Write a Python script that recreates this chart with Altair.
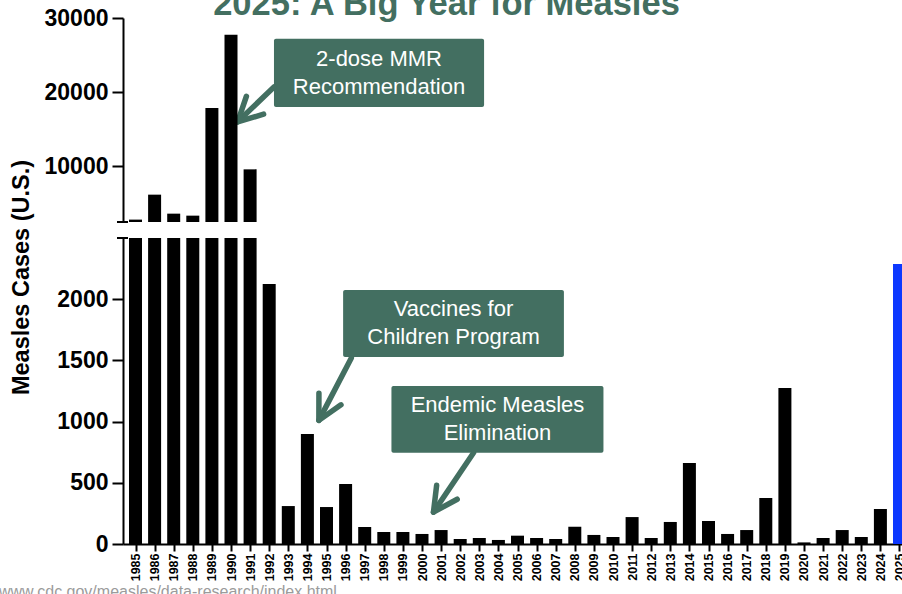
import math

import altair as alt
import pandas as pd

# ---------------------------------------------------------------- data
years = list(range(1985, 2026))
cases = [
    2822, 6186, 3625, 3356, 17871, 27750, 9596,          # 1985-1991
    2124, 310, 899, 302, 490,                            # 1992-1996
    139, 98, 98, 82, 114, 41, 49, 33, 68, 49, 41,        # 1997-2007
    141, 74, 57, 220, 49, 180, 662, 188, 82, 114,        # 2008-2017
    376, 1274, 13, 49, 114, 57, 286, 2288,               # 2018-2025
]
highlight_year = 2025

title_text = "2025: A Big Year for Measles"
y_title = "Measles Cases (U.S.)"
source_note = "www.cdc.gov/measles/data-research/index.html"

top_ticks = [10000, 20000, 30000]
bottom_ticks = [0, 500, 1000, 1500, 2000]

# callouts: box corners and arrow ends, in (year, cases) units
note_labels = ["2-dose MMR\nRecommendation", "Vaccines for\nChildren Program", "Endemic Measles\nElimination"]
note_panel = ["top", "bottom", "bottom"]
note_x0 = [1992.25, 1995.87, 1998.40]
note_x1 = [2003.25, 2007.43, 2009.50]
note_y0 = [18000, 1528, 745]
note_y1 = [27200, 2075, 1290]
arrow_x0 = [1992.25, 1996.30, 2002.70]
arrow_y0 = [20700, 1520, 745]
arrow_x1 = [1990.35, 1994.60, 2000.60]
arrow_y1 = [16000, 1010, 260]

# ---------------------------------------------------------------- layout
FONT = "Liberation Sans"
GREEN = "#436f61"
BLUE = "#0d38ff"

W, H = 779, 526
TOP_H = 204          # height of the upper (broken) panel
BOTTOM_TOP = 220     # where the lower panel starts
BREAK, TOP_MAX = 2500, 30000
X_DOMAIN = [1984.3455, 2025.1309]

px_per_year = W / (X_DOMAIN[1] - X_DOMAIN[0])
px_per_case = {"top": TOP_H / (TOP_MAX - BREAK), "bottom": (H - BOTTOM_TOP) / BREAK}

x_scale = alt.Scale(domain=X_DOMAIN, nice=False, zero=False, padding=0)
y_scales = {
    "top": alt.Scale(domain=[BREAK, TOP_MAX], range=[TOP_H, 0], nice=False, zero=False),
    "bottom": alt.Scale(domain=[0, BREAK], range=[H, BOTTOM_TOP], nice=False, zero=False),
}

y_axis_style = dict(
    orient="left", domainColor="black", domainWidth=2, tickColor="black",
    tickWidth=2, tickSize=11, labelFont=FONT, labelFontSize=23,
    labelFontWeight="bold", labelColor="black", labelPadding=4,
    labelFlush=False, labelOverlap=False, grid=False, title=None, format="d",
)
top_axis = alt.Axis(values=top_ticks, **y_axis_style)
bot_axis = alt.Axis(values=bottom_ticks, **y_axis_style)
# every layer shares this one x axis definition so the layers merge into a single axis
x_axis = alt.Axis(
    values=years, format="d", labelAngle=270, title=None, grid=False,
    labelFont=FONT, labelFontSize=12.5, labelFontWeight="bold",
    labelColor="black", labelPadding=2, labelFlush=False, labelOverlap=False,
    tickSize=7, tickWidth=2, tickColor="black", domainColor="black", domainWidth=2,
)

bars = pd.DataFrame({"year": years, "cases": cases})
bar_color = alt.condition(f"datum.year == {highlight_year}", alt.value(BLUE), alt.value("black"))

# ---------------------------------------------------------------- bars
top_bars = (
    alt.Chart(bars)
    .transform_filter(f"datum.cases > {BREAK}")
    .transform_calculate(top=f"min(datum.cases, {TOP_MAX})", base=f"{BREAK}")
    .mark_bar(size=13, clip=True)
    .encode(
        x=alt.X("year:Q", scale=x_scale, axis=x_axis),
        y=alt.Y("top:Q", scale=y_scales["top"], axis=top_axis),
        y2="base:Q",
        color=bar_color,
    )
)

bottom_bars = (
    alt.Chart(bars)
    .transform_calculate(low=f"min(datum.cases, {BREAK})", base="0")
    .mark_bar(size=13, clip=True)
    .encode(
        x=alt.X("year:Q", scale=x_scale, axis=x_axis),
        y=alt.Y("low:Q", scale=y_scales["bottom"], axis=bot_axis),
        y2="base:Q",
        color=bar_color,
    )
)

# short cross marks on the y axis at either side of the break
breaks = pd.DataFrame({"v": [BREAK]})


def break_mark(panel):
    return alt.Chart(breaks).mark_rule(color="black", strokeWidth=2).encode(
        x=alt.value(-6), x2=alt.value(5),
        y=alt.Y("v:Q", scale=y_scales[panel], axis=None),
    )


# ---------------------------------------------------------------- callouts
def arrow_angle(i):
    panel = note_panel[i]
    dx = (arrow_x1[i] - arrow_x0[i]) * px_per_year
    dy = (arrow_y0[i] - arrow_y1[i]) * px_per_case[panel]
    return math.degrees(math.atan2(dy, dx)) % 360


notes = pd.DataFrame({
    "label": note_labels,
    "panel": note_panel,
    "x0": note_x0, "x1": note_x1, "y0": note_y0, "y1": note_y1,
    "cx": [(a + b) / 2 for a, b in zip(note_x0, note_x1)],
    "cy": [(a + b) / 2 for a, b in zip(note_y0, note_y1)],
    "ax0": arrow_x0, "ay0": arrow_y0, "ax1": arrow_x1, "ay1": arrow_y1,
    "angle": [arrow_angle(i) for i in range(len(note_labels))],
})

CHEVRON = "M -0.89 -0.46 L 0 0 L -0.89 0.46"


def callouts(panel):
    base = alt.Chart(notes).transform_filter(f"datum.panel == '{panel}'")
    xs = dict(scale=x_scale, axis=x_axis)
    ys = dict(scale=y_scales[panel], axis=None)
    box = base.mark_rect(color=GREEN, cornerRadius=2).encode(
        x=alt.X("x0:Q", **xs), x2="x1:Q", y=alt.Y("y0:Q", **ys), y2="y1:Q"
    )
    text = base.mark_text(
        font=FONT, fontSize=22, color="white", lineBreak="\n", lineHeight=28,
        align="center", baseline="middle", dy=-14,
    ).encode(x=alt.X("cx:Q", **xs), y=alt.Y("cy:Q", **ys), text="label:N")
    shaft = base.mark_rule(color=GREEN, strokeWidth=5.5, strokeCap="round").encode(
        x=alt.X("ax0:Q", **xs), x2="ax1:Q", y=alt.Y("ay0:Q", **ys), y2="ay1:Q"
    )
    head = base.mark_point(
        shape=CHEVRON, filled=False, size=2916, strokeWidth=5.5, color=GREEN,
        opacity=1, strokeCap="round", strokeJoin="round",
    ).encode(
        x=alt.X("ax1:Q", **xs), y=alt.Y("ay1:Q", **ys),
        angle=alt.Angle("angle:Q", scale=None),
    )
    return [box, text, shaft, head]


# ---------------------------------------------------------------- text
title = alt.Chart(pd.DataFrame({"t": [title_text]})).mark_text(
    font=FONT, fontSize=34.5, fontWeight="bold", color=GREEN,
    align="center", baseline="alphabetic",
).encode(x=alt.value(323.5), y=alt.value(-3), text="t:N")

ytitle = alt.Chart(pd.DataFrame({"t": [y_title]})).mark_text(
    font=FONT, fontSize=23.5, fontWeight="bold", color="black", angle=270,
    align="center", baseline="alphabetic",
).encode(x=alt.value(-94), y=alt.value(259.5), text="t:N")

source = alt.Chart(pd.DataFrame({"t": [source_note]})).mark_text(
    font=FONT, fontSize=16, color="#9b9b9b", align="left", baseline="alphabetic",
).encode(x=alt.value(-124), y=alt.value(578.5), text="t:N")

chart = (
    alt.layer(
        *callouts("top"), *callouts("bottom"), top_bars, bottom_bars,
        break_mark("top"), break_mark("bottom"),
        title, ytitle, source,
    )
    .resolve_scale(y="independent")
    .properties(
        width=W, height=H, autosize="none",
        padding={"left": 123, "top": 18, "right": 0, "bottom": 50},
        background="white",
    )
    .configure_view(stroke=None)
)

chart.save("out.html", embed_options={"renderer": "svg", "actions": False})
